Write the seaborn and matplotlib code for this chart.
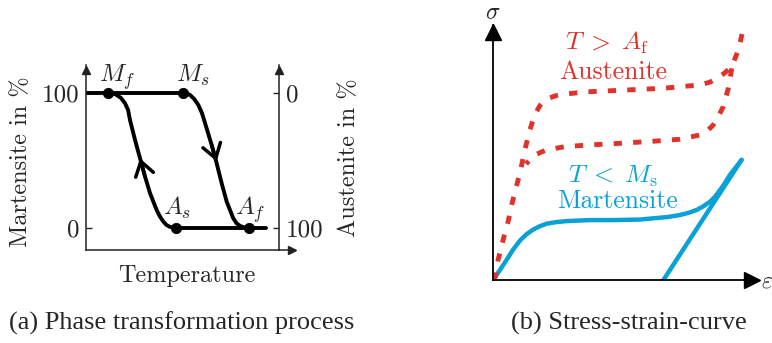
import seaborn as sns
import matplotlib.pyplot as plt

sns.set_style("white")
plt.rcParams["font.family"] = ["cmr10", "DejaVu Serif"]
plt.rcParams["mathtext.fontset"] = "cm"
plt.rcParams["axes.formatter.use_mathtext"] = True

# (a) phase transformation: temperature (0..1) vs martensite %
left_branch_x = [0.116, 0.139, 0.159, 0.181, 0.202, 0.218, 0.228, 0.254, 0.280, 0.306,
                 0.332, 0.366, 0.383, 0.401, 0.417, 0.435, 0.465]
left_branch_y = [100.0, 99.8, 98.5, 96.3, 92.4, 87.4, 80.0, 65.2, 51.6, 38.0,
                 25.7, 13.3, 8.5, 4.7, 2.2, 0.8, 0.0]
right_branch_x = [0.501, 0.522, 0.539, 0.561, 0.582, 0.601, 0.617, 0.651, 0.677, 0.703,
                  0.729, 0.763, 0.780, 0.798, 0.820, 0.846]
right_branch_y = [100.0, 99.6, 98.5, 95.5, 91.1, 85.0, 77.6, 61.5, 47.9, 33.1,
                  19.5, 7.2, 3.5, 1.5, 0.4, 0.0]
top_line_x = [0.0, 0.501]
top_line_y = [100.0, 100.0]
bottom_line_x = [0.465, 0.933]
bottom_line_y = [0.0, 0.0]
point_x = [0.116, 0.501, 0.465, 0.846]
point_y = [100.0, 100.0, 0.0, 0.0]
point_labels = [r"$M_f$", r"$M_s$", r"$A_s$", r"$A_f$"]
martensite_ticks = [0, 100]
austenite_ticks = [0, 100]

# (b) stress-strain curves (normalised strain / stress)
mart_load_x = [0.0, 0.026, 0.052, 0.075, 0.102, 0.127, 0.152, 0.177, 0.203, 0.238,
               0.278, 0.366, 0.454, 0.555, 0.605, 0.660, 0.706, 0.743, 0.769, 0.792,
               0.819, 0.838, 0.857, 0.875, 0.894, 0.917, 0.938]
mart_load_y = [0.0, 0.039, 0.080, 0.118, 0.155, 0.180, 0.198, 0.211, 0.221, 0.227,
               0.231, 0.235, 0.235, 0.237, 0.242, 0.247, 0.255, 0.265, 0.275, 0.288,
               0.307, 0.327, 0.353, 0.380, 0.412, 0.443, 0.471]
mart_unload_x = [0.643, 0.938]
mart_unload_y = [0.0, 0.471]
aust_load_x = [0.0, 0.009, 0.019, 0.038, 0.057, 0.072, 0.088, 0.103, 0.120, 0.139,
               0.151, 0.164, 0.177, 0.191, 0.208, 0.238, 0.271, 0.354, 0.505, 0.643,
               0.781, 0.819, 0.844, 0.872, 0.901, 0.926, 0.942]
aust_load_y = [0.0, 0.013, 0.078, 0.157, 0.229, 0.301, 0.366, 0.425, 0.510, 0.588,
               0.627, 0.660, 0.684, 0.700, 0.712, 0.723, 0.729, 0.738, 0.745, 0.752,
               0.765, 0.776, 0.791, 0.810, 0.837, 0.902, 0.974]
aust_unload_x = [0.901, 0.888, 0.869, 0.849, 0.831, 0.808, 0.781, 0.706, 0.630, 0.479,
                 0.354, 0.272, 0.201, 0.157, 0.138, 0.125]
aust_unload_y = [0.830, 0.752, 0.680, 0.639, 0.608, 0.584, 0.569, 0.552, 0.546, 0.536,
                 0.529, 0.523, 0.510, 0.490, 0.471, 0.455]

red = "#e0312a"
blue = "#0aa2d6"

fig = plt.figure(figsize=(7.72, 3.43), dpi=100)
ax1 = fig.add_axes([86 / 772, 1 - 250 / 343, 193 / 772, 185 / 343])
ax2 = fig.add_axes([493 / 772, 1 - 280 / 343, 265 / 772, 255 / 343])

# ---- panel (a)
kw = dict(color="black", lw=2.8, sort=False, estimator=None, ax=ax1)
sns.lineplot(x=top_line_x, y=top_line_y, **kw)
sns.lineplot(x=bottom_line_x, y=bottom_line_y, **kw)
sns.lineplot(x=left_branch_x, y=left_branch_y, **kw)
sns.lineplot(x=right_branch_x, y=right_branch_y, **kw)
sns.scatterplot(x=point_x, y=point_y, s=55, color="black", edgecolor="black",
                zorder=5, ax=ax1)

offsets = [(6, 8), (7, 8), (1, 9.5), (1, 9.5)]
for px, py, lab, off in zip(point_x, point_y, point_labels, offsets):
    ax1.annotate(lab, (px, py), xytext=off, textcoords="offset points",
                 ha="center", va="baseline", fontsize=18)

# direction arrows on the branches
arrow = dict(arrowstyle="->,head_length=0.5,head_width=0.33", lw=2.5,
             color="black", mutation_scale=20, shrinkA=0, shrinkB=0)
ax1.annotate("", xy=(0.280, 51.6), xytext=(0.306, 38.0), arrowprops=arrow)
ax1.annotate("", xy=(0.677, 49.3), xytext=(0.651, 61.5), arrowprops=arrow)

ax1.set_xlim(0, 1)
ax1.set_ylim(-16.3, 120.7)
ax1.spines["top"].set_visible(False)
for s in ["left", "right", "bottom"]:
    ax1.spines[s].set_linewidth(1.1)
    ax1.spines[s].set_color("#222222")
ax1.set_xticks([])
ax1.set_yticks(martensite_ticks)
ax1.set_yticklabels([str(t) for t in martensite_ticks])
ax1.tick_params(axis="y", direction="in", length=4, width=1, labelsize=18, pad=5)
ax1.set_ylabel("Martensite in %", fontsize=17.5)
ax1.yaxis.set_label_coords(-0.28, 0.476)
ax1.set_xlabel("Temperature", fontsize=17.5)
ax1.xaxis.set_label_coords(0.52, -0.08)
ax1.plot([1, 1.083], [0, 0], color="#222222", lw=1.1, transform=ax1.transAxes, clip_on=False)
ax1.plot(1.068, 0, ">", color="#222222", ms=6, transform=ax1.transAxes, clip_on=False)
ax1.plot(0, 0.975, "^", color="#222222", ms=6, transform=ax1.transAxes, clip_on=False)
ax1.plot(1, 0.975, "^", color="#222222", ms=6, transform=ax1.transAxes, clip_on=False)

ax1b = ax1.twinx()
ax1b.set_ylim(116.3, -20.7)
ax1b.set_yticks(austenite_ticks)
ax1b.set_yticklabels([str(t) for t in austenite_ticks])
ax1b.tick_params(axis="y", direction="in", length=4, width=1, labelsize=18, pad=5)
for s in ["top", "left", "bottom", "right"]:
    ax1b.spines[s].set_visible(False)
ax1b.set_ylabel("Austenite in %", fontsize=17.5, rotation=90)
ax1b.yaxis.set_label_coords(1.306, 0.497)

# ---- panel (b)
sns.lineplot(x=mart_load_x, y=mart_load_y, color=blue, lw=3.2, sort=False,
             estimator=None, ax=ax2)
sns.lineplot(x=mart_unload_x, y=mart_unload_y, color=blue, lw=3.2, sort=False,
             estimator=None, ax=ax2)
for xs, ys in [(aust_load_x, aust_load_y), (aust_unload_x, aust_unload_y)]:
    sns.lineplot(x=xs, y=ys, color=red, lw=3.5, sort=False, estimator=None,
                 ax=ax2).lines[-1].set_dashes((1.7, 2.3))

ax2.text(0.432, 0.902, r"$T\;>\;A_\mathrm{f}$", color=red, fontsize=18.5, ha="center", va="baseline")
ax2.text(0.454, 0.788, "Austenite", color=red, fontsize=18.5, ha="center", va="baseline")
ax2.text(0.451, 0.382, r"$T\;<\;M_\mathrm{s}$", color=blue, fontsize=18.5, ha="center", va="baseline")
ax2.text(0.470, 0.282, "Martensite", color=blue, fontsize=18.5, ha="center", va="baseline")

ax2.set_xlim(0, 1)
ax2.set_ylim(0, 1)
ax2.set_xticks([])
ax2.set_yticks([])
ax2.spines["top"].set_visible(False)
ax2.spines["right"].set_visible(False)
for s in ["left", "bottom"]:
    ax2.spines[s].set_linewidth(1.3)
    ax2.spines[s].set_color("black")
ax2.plot(0, 1 - 6.5 / 255, "^", color="black", ms=11, transform=ax2.transAxes, clip_on=False)
ax2.plot(1 - 6.5 / 265, 0, ">", color="black", ms=11, transform=ax2.transAxes, clip_on=False)
fig.text(493 / 772, 1 - 13 / 343, r"$\sigma$", fontsize=17, ha="center", va="center")
fig.text(761 / 772, 1 - 281 / 343, r"$\varepsilon$", fontsize=17, ha="left", va="center")

# captions
fig.text(182 / 772, 1 - 330 / 343, "(a) Phase transformation process",
         family="Liberation Serif", fontsize=19, ha="center", va="baseline")
fig.text(629 / 772, 1 - 330 / 343, "(b) Stress-strain-curve",
         family="Liberation Serif", fontsize=19, ha="center", va="baseline")

fig.savefig("out.png", dpi=100)
